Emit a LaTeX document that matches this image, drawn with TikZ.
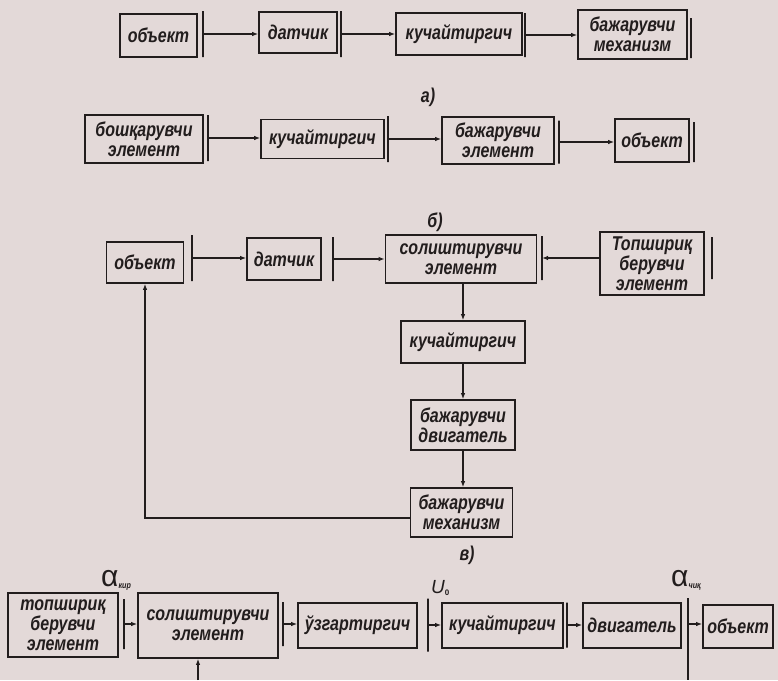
\documentclass[tikz,border=0pt]{standalone}
\usepackage{fontspec}
\setmainfont{Liberation Sans}
\newfontfamily\boxfamily{Liberation Sans}[FakeStretch=0.8]
\usetikzlibrary{arrows.meta}
\definecolor{paper}{RGB}{227,217,216}
\definecolor{ink}{RGB}{34,29,29}
\newcommand{\blkfont}{\boxfamily\bfseries\itshape\fontsize{20}{20}\selectfont}
\begin{document}
\begin{tikzpicture}[x=1pt,y=-1pt,
  blk/.style={draw=ink, line width=1.7pt, inner sep=0pt, align=center,
    font=\blkfont, text=ink},
  barnode/.style={draw=ink, line width=2pt, inner sep=0pt, minimum width=0pt,
    outer sep=0pt},
  barline/.style={draw=ink, line width=2pt},
  arr/.style={draw=ink, line width=1.3pt, -{Latex[length=6pt,width=4.5pt]}},
  lbl/.style={inner sep=0pt, text=ink, font=\blkfont}]

% page
\fill[paper] (0,0) rectangle (778,680);
\useasboundingbox (0,0) rectangle (778,680);

% ---------- a) ----------
\node[blk, minimum width=77pt, minimum height=43pt] (a1) at (158.5,35.5) {объект};
\node[barnode, minimum height=46pt] (a1b) at (203,34) {};
\node[blk, minimum width=78pt, minimum height=41pt] (a2) at (298,32.5) {датчик};
\node[barnode, minimum height=46pt] (a2b) at (341,34) {};
\node[blk, minimum width=126pt, minimum height=42pt] (a3) at (459,34) {кучайтиргич};
\node[barnode, minimum height=44pt] (a3b) at (525,35) {};
\node[blk, minimum width=109pt, minimum height=49pt] (a4) at (632.5,34.5) {бажарувчи\\механизм};
\node[barnode, minimum height=40pt] (a4b) at (691,38) {};
\draw[arr] (a1b) -- (a1b -| a2.west);
\draw[arr] (a2b) -- (a2b -| a3.west);
\draw[arr] (a3b) -- (a3b -| a4.west);
\node[lbl] (la) at (428,97) {а)};

% ---------- b) ----------
\node[blk, minimum width=118pt, minimum height=48pt] (b1) at (144,139) {бошқарувчи\\элемент};
\node[barnode, minimum height=46pt] (b1b) at (208,138) {};
\node[blk, minimum width=123pt, minimum height=39pt] (b2) at (322.5,139) {кучайтиргич};
\node[barnode, minimum height=46pt] (b2b) at (388,139) {};
\node[blk, minimum width=112pt, minimum height=47pt] (b3) at (498,140.5) {бажарувчи\\элемент};
\node[barnode, minimum height=43pt] (b3b) at (559,142) {};
\node[blk, minimum width=74pt, minimum height=43pt] (b4) at (652,140.5) {объект};
\node[barnode, minimum height=40pt] (b4b) at (694,142) {};
\draw[arr] (b1b) -- (b1b -| b2.west);
\draw[arr] (b2b) -- (b2b -| b3.west);
\draw[arr] (b3b) -- (b3b -| b4.west);
\node[lbl] (lb) at (435,222) {б)};

% ---------- c) ----------
\node[blk, minimum width=77pt, minimum height=41pt] (c1) at (145,262.5) {объект};
\node[barnode, minimum height=46pt] (c1b) at (192,258) {};
\node[blk, minimum width=74pt, minimum height=42pt] (c2) at (284,259) {датчик};
\node[barnode, minimum height=44pt] (c2b) at (333,259) {};
\node[blk, minimum width=151pt, minimum height=48pt] (c3) at (461,259) {солиштирувчи\\элемент};
\node[barnode, minimum height=44pt] (c3b) at (542,258) {};
\node[blk, minimum width=104pt, minimum height=63pt] (c4) at (652,263.5) {Топшириқ\\берувчи\\элемент};
\node[barnode, minimum height=42pt] (c4b) at (712,258) {};
\node[blk, minimum width=124pt, minimum height=42pt] (c5) at (463,342) {кучайтиргич};
\node[blk, minimum width=104pt, minimum height=50pt] (c6) at (463,425) {бажарувчи\\двигатель};
\node[blk, minimum width=102pt, minimum height=49pt] (c7) at (461.5,512.5) {бажарувчи\\механизм};
\coordinate (fb) at (145,518);
\draw[arr] (c1b) -- (c1b -| c2.west);
\draw[arr] (c2b) -- (c2b -| c3.west);
\draw[arr] (c3b -| c4.west) -- (c3b);
\draw[arr] (c3.south -| c5.north) -- (c5.north);
\draw[arr] (c5.south) -- (c6.north);
\draw[arr] (c6.south) -- (c6.south |- c7.north);
\draw[arr] (c7.west |- fb) -- (fb) -- (fb |- c1.south);
\node[lbl] (lc) at (467,555) {в)};

% ---------- d) ----------
\node[blk, minimum width=110pt, minimum height=64pt] (d1) at (63,625) {топшириқ\\берувчи\\элемент};
\node[barnode, minimum height=50pt] (d1b) at (124,624) {};
\node[blk, minimum width=140pt, minimum height=65pt] (d2) at (208,625.5) {солиштирувчи\\элемент};
\node[barnode, minimum height=44pt] (d2b) at (283,624) {};
\node[blk, minimum width=119pt, minimum height=45pt] (d3) at (357.5,625.5) {ўзгартиргич};
\node[barnode, minimum height=53pt] (d3b) at (428,625) {};
\node[blk, minimum width=121pt, minimum height=45pt] (d4) at (502.5,625.5) {кучайтиргич};
\node[barnode, minimum height=45pt] (d4b) at (567,625) {};
\node[blk, minimum width=98pt, minimum height=45pt] (d5) at (632,625.5) {двигатель};
\node[blk, minimum width=70pt, minimum height=43pt] (d6) at (738,626.5) {объект};
\coordinate (dtop) at (688,598);
\coordinate (dmid) at (688,624);
\coordinate (dbot) at (688,680);
\coordinate (din) at (198,680);
\draw[barline] (dtop) -- (dbot);
\draw[arr] (d1b) -- (d1b -| d2.west);
\draw[arr] (d2b) -- (d2b -| d3.west);
\draw[arr] (d3b) -- (d3b -| d4.west);
\draw[arr] (d4b) -- (d4b -| d5.west);
\draw[arr] (dmid) -- (dmid -| d6.west);
\draw[arr] (din) -- (din |- d2.south);

\node[anchor=base west, inner sep=0pt, text=ink] (akir) at (101,586)
  {{\fontsize{30}{30}\selectfont α}\raisebox{-2pt}{\boxfamily\bfseries\itshape\fontsize{9}{9}\selectfont кир}};
\node[anchor=base west, inner sep=0pt, text=ink] (u0) at (431,593)
  {{\itshape\fontsize{19}{19}\selectfont U}\raisebox{-2pt}{\bfseries\fontsize{8}{8}\selectfont 0}};
\node[anchor=base west, inner sep=0pt, text=ink] (achiq) at (671,586)
  {{\fontsize{30}{30}\selectfont α}\raisebox{-2pt}{\boxfamily\bfseries\itshape\fontsize{9}{9}\selectfont чиқ}};
\end{tikzpicture}
\end{document}
